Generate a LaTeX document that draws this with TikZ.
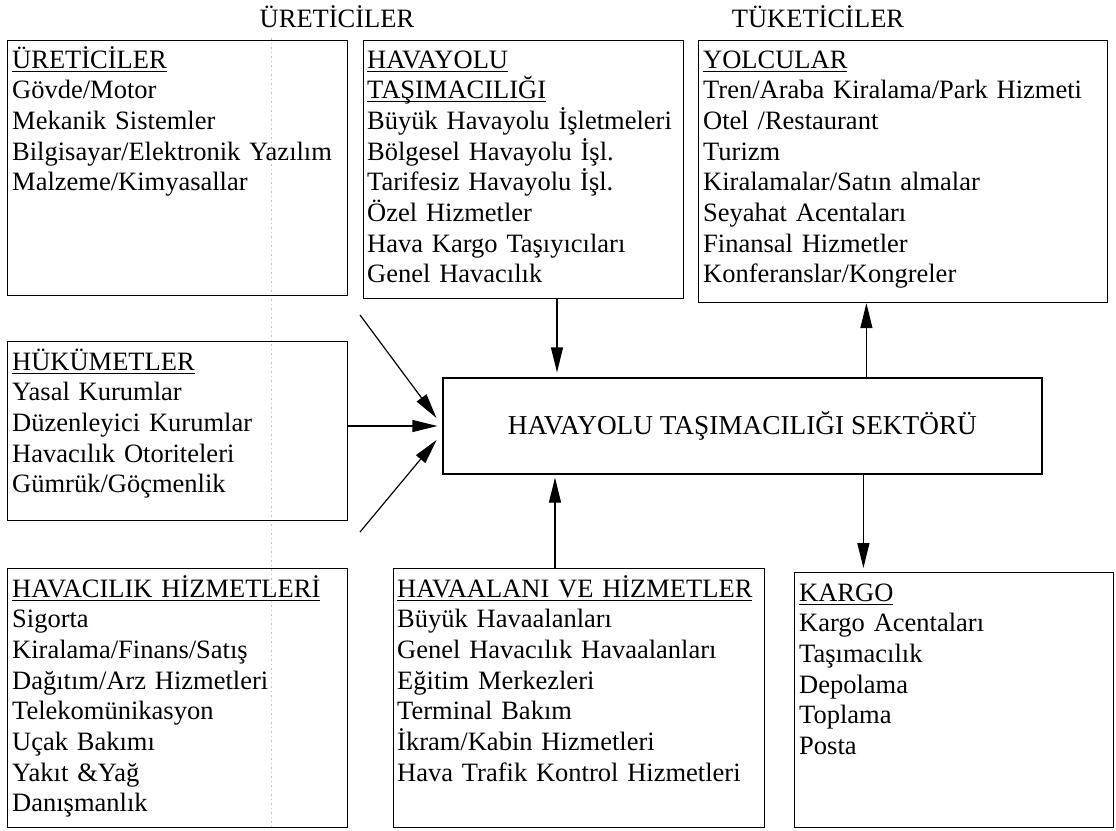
\documentclass[tikz,border=0pt]{standalone}
\usepackage{fontspec}
\setmainfont{Liberation Serif}
\usetikzlibrary{arrows.meta,calc}

% body text size and line spacing
\newcommand\bodyfont{\fontsize{26.5}{30.7}\selectfont}
% underlined heading with a fixed rule depth
\newcommand\hdr[1]{\leavevmode\setbox0\hbox{#1}\rlap{\rule[-3.6pt]{\wd0}{1.1pt}}\box0}

\tikzset{
  panel/.style={draw, line width=1.2pt, inner sep=0pt, anchor=north west},
  itemlist/.style={anchor=base west, inner sep=0pt, align=left, text width=#1, font=\bodyfont},
  arr/.style={line width=1.2pt, -{Triangle[length=25pt,width=12pt]}},
  guide/.style={draw=black!25, line width=0.7pt, dash pattern=on 1.5pt off 3pt},
}

\begin{document}
\begin{tikzpicture}[x=1pt, y=-1pt, font=\bodyfont]
\useasboundingbox (0,0) rectangle (1116,830);

% faint vertical guide line
\draw[guide] (271,38) -- (271,830);

% column titles
\node[anchor=base] (tp) at (337,27) {ÜRETİCİLER};
\node[anchor=base] (tc) at (818,27) {TÜKETİCİLER};

% producers
\node[panel, minimum width=340, minimum height=255] (b1) at (7,40) {};
\node[itemlist=334pt] (t1) at ($(b1.north west)+(5,28)$)
  {\hdr{ÜRETİCİLER}\\Gövde/Motor\\Mekanik Sistemler\\Bilgisayar/Elektronik Yazılım\\Malzeme/Kimyasallar};

% airlines
\node[panel, minimum width=320, minimum height=258] (b2) at (363,40) {};
\node[itemlist=314pt] (t2) at ($(b2.north west)+(4,28)$)
  {\hdr{HAVAYOLU}\\\hdr{TAŞIMACILIĞI}\\Büyük Havayolu İşletmeleri\\Bölgesel Havayolu İşl.\\Tarifesiz Havayolu İşl.\\Özel Hizmetler\\Hava Kargo Taşıyıcıları\\Genel Havacılık};

% passengers
\node[panel, minimum width=409, minimum height=262] (b3) at (698,40) {};
\node[itemlist=403pt] (t3) at ($(b3.north west)+(5,28)$)
  {\hdr{YOLCULAR}\\Tren/Araba Kiralama/Park Hizmeti\\Otel /Restaurant\\Turizm\\Kiralamalar/Satın almalar\\Seyahat Acentaları\\Finansal Hizmetler\\Konferanslar/Kongreler};

% governments
\node[panel, minimum width=340, minimum height=179] (gov) at (7,341) {};
\node[itemlist=334pt] (tg) at ($(gov.north west)+(5,29)$)
  {\hdr{HÜKÜMETLER}\\Yasal Kurumlar\\Düzenleyici Kurumlar\\Havacılık Otoriteleri\\Gümrük/Göçmenlik};

% central sector box
\node[draw, line width=1.2pt, minimum width=599, minimum height=96, inner sep=0pt,
      font=\fontsize{27.3}{31}\selectfont] (core) at (742.5,426) {\raisebox{-2pt}{HAVAYOLU TAŞIMACILIĞI SEKTÖRÜ}};

% aviation services
\node[panel, minimum width=340, minimum height=259] (svc) at (7,568) {};
\node[itemlist=334pt] (ts) at ($(svc.north west)+(5,29)$)
  {\hdr{HAVACILIK HİZMETLERİ}\\Sigorta\\Kiralama/Finans/Satış\\Dağıtım/Arz Hizmetleri\\Telekomünikasyon\\Uçak Bakımı\\Yakıt \&Yağ\\Danışmanlık};

% airports
\node[panel, minimum width=371, minimum height=259] (apt) at (393,568) {};
\node[itemlist=366pt] (ta) at ($(apt.north west)+(4,29)$)
  {\hdr{HAVAALANI VE HİZMETLER}\\Büyük Havaalanları\\Genel Havacılık Havaalanları\\Eğitim Merkezleri\\Terminal Bakım\\İkram/Kabin Hizmetleri\\Hava Trafik Kontrol Hizmetleri};

% cargo
\node[panel, minimum width=319, minimum height=255] (cargo) at (794,572) {};
\node[itemlist=313pt] (tk) at ($(cargo.north west)+(5,29)$)
  {\hdr{KARGO}\\Kargo Acentaları\\Taşımacılık\\Depolama\\Toplama\\Posta};

% free ends of the diagonal inputs
\coordinate (d1) at (360,315);
\coordinate (d2) at (360,532);

% inputs into the sector
\draw[arr, shorten >=5pt] ([xshift=194pt]b2.south west) -- ([xshift=194pt]b2.south west |- core.north);
\draw[arr, shorten >=5pt] (gov.east |- core.west) -- (core.west);
\draw[arr, shorten >=10pt] (d1) -- (core.west);
\draw[arr, shorten >=9pt] (d2) -- ($(core.west)+(0,7)$);
\draw[arr, shorten >=3pt] ([xshift=162pt]apt.north west) -- ([xshift=162pt]apt.north west |- core.south);

% outputs from the sector
\draw[arr] ([xshift=424pt]core.north west) -- ([xshift=424pt]core.north west |- b3.south);
\draw[arr, shorten >=4pt] ([xshift=421pt]core.south west) -- ([xshift=421pt]core.south west |- cargo.north);
\end{tikzpicture}
\end{document}
